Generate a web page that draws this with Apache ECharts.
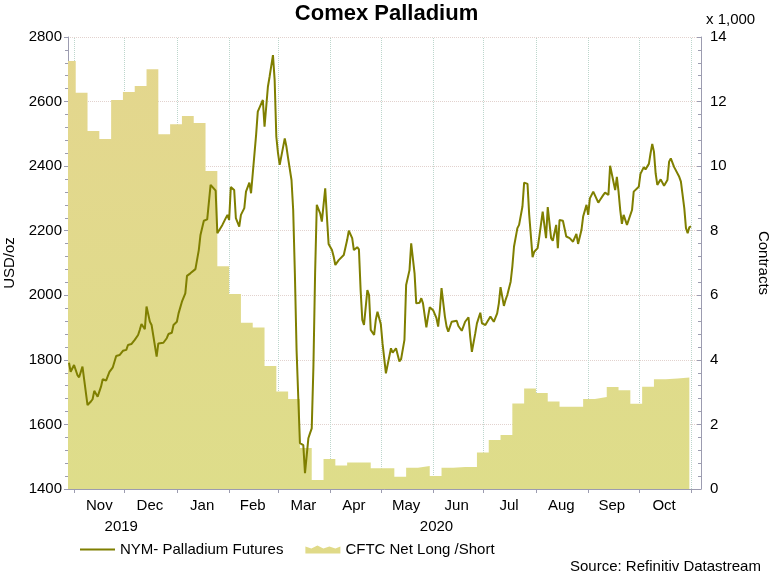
<!DOCTYPE html>
<html lang="en">

<head>
    <meta charset="UTF-8">
    <title>Comex Palladium</title>
    <script src="https://cdn.jsdelivr.net/npm/echarts@6/dist/echarts.min.js"></script>
    <style>
        body { margin: 0; background: #fff; }
    </style>
</head>

<body>
    <div id="chart" style="width: 773px;height: 576px;"></div>
    <script>
        // CFTC net long/short, weekly, thousands of contracts (right axis)
        var cftcDates = ['2019-10-28 10:00', '2019-11-02', '2019-11-09', '2019-11-16', '2019-11-23', '2019-11-30',
            '2019-12-07', '2019-12-14', '2019-12-21', '2019-12-28', '2020-01-04', '2020-01-11', '2020-01-18',
            '2020-01-25', '2020-02-01', '2020-02-08', '2020-02-15', '2020-02-22', '2020-02-29', '2020-03-07',
            '2020-03-14', '2020-03-21', '2020-03-28', '2020-04-04', '2020-04-11', '2020-04-18', '2020-04-25',
            '2020-05-02', '2020-05-09', '2020-05-16', '2020-05-23', '2020-05-30', '2020-06-06', '2020-06-13',
            '2020-06-20', '2020-06-27', '2020-07-04', '2020-07-11', '2020-07-18', '2020-07-25', '2020-08-01',
            '2020-08-08', '2020-08-15', '2020-08-22', '2020-08-29', '2020-09-05', '2020-09-12', '2020-09-19',
            '2020-09-26', '2020-10-03', '2020-10-10', '2020-10-17', '2020-10-24', '2020-10-31']
        var cftcNet = [13.26, 12.27, 11.09, 10.84, 12.05, 12.3,
            12.48, 13.0, 10.99, 11.3, 11.55, 11.34, 9.85,
            6.9, 6.04, 5.15, 5.0, 3.81, 3.02, 2.79,
            1.27, 0.28, 0.93, 0.73, 0.82, 0.82, 0.64,
            0.64, 0.38, 0.66, 0.71, 0.40, 0.66, 0.68,
            0.68, 1.13, 1.52, 1.67, 2.65, 3.11, 2.97,
            2.71, 2.55, 2.55, 2.79, 2.85, 3.16, 3.06,
            2.64, 3.17, 3.40, 3.42, 3.45, 3.45]

        // NYM palladium futures, USD/oz (left axis)
        var priceDates = ['2019-10-29', '2019-10-30', '2019-11-01', '2019-11-03', '2019-11-04', '2019-11-06',
            '2019-11-09', '2019-11-11', '2019-11-12', '2019-11-13', '2019-11-15', '2019-11-17', '2019-11-18',
            '2019-11-20', '2019-11-22', '2019-11-24', '2019-11-26', '2019-11-28', '2019-11-30', '2019-12-02',
            '2019-12-03', '2019-12-05', '2019-12-07', '2019-12-09', '2019-12-10', '2019-12-11', '2019-12-13',
            '2019-12-14', '2019-12-16', '2019-12-17', '2019-12-18', '2019-12-20', '2019-12-21', '2019-12-24',
            '2019-12-26', '2019-12-27', '2019-12-29', '2019-12-30', '2020-01-01', '2020-01-02', '2020-01-04',
            '2020-01-06', '2020-01-07', '2020-01-09', '2020-01-12', '2020-01-14', '2020-01-15', '2020-01-17',
            '2020-01-19', '2020-01-21', '2020-01-24', '2020-01-25', '2020-01-28', '2020-01-30', '2020-01-31',
            '2020-02-01', '2020-02-02', '2020-02-04', '2020-02-05', '2020-02-07', '2020-02-08', '2020-02-10',
            '2020-02-11', '2020-02-13', '2020-02-14', '2020-02-15', '2020-02-17', '2020-02-18', '2020-02-19',
            '2020-02-21', '2020-02-22', '2020-02-24', '2020-02-25', '2020-02-27', '2020-02-28', '2020-02-29',
            '2020-03-01', '2020-03-02', '2020-03-03', '2020-03-05', '2020-03-06', '2020-03-07', '2020-03-09',
            '2020-03-10', '2020-03-11', '2020-03-12', '2020-03-13', '2020-03-14', '2020-03-15', '2020-03-16',
            '2020-03-17', '2020-03-19', '2020-03-20', '2020-03-21', '2020-03-22', '2020-03-23', '2020-03-24',
            '2020-03-26', '2020-03-27', '2020-03-28', '2020-03-29', '2020-03-30', '2020-03-31', '2020-04-02',
            '2020-04-03', '2020-04-04', '2020-04-06', '2020-04-07', '2020-04-09', '2020-04-10', '2020-04-11',
            '2020-04-12', '2020-04-14', '2020-04-15', '2020-04-17', '2020-04-18', '2020-04-19', '2020-04-20',
            '2020-04-21', '2020-04-23', '2020-04-24', '2020-04-25', '2020-04-27', '2020-04-28', '2020-04-29',
            '2020-05-01', '2020-05-02', '2020-05-04', '2020-05-05', '2020-05-07', '2020-05-08', '2020-05-10',
            '2020-05-12', '2020-05-13', '2020-05-15', '2020-05-16', '2020-05-18', '2020-05-19', '2020-05-21',
            '2020-05-22', '2020-05-24', '2020-05-25', '2020-05-26', '2020-05-28', '2020-05-29', '2020-05-30',
            '2020-06-01', '2020-06-03', '2020-06-04', '2020-06-05', '2020-06-06', '2020-06-08', '2020-06-09',
            '2020-06-10', '2020-06-12', '2020-06-13', '2020-06-15', '2020-06-16', '2020-06-18', '2020-06-19',
            '2020-06-20', '2020-06-22', '2020-06-23', '2020-06-24', '2020-06-26', '2020-06-27', '2020-06-29',
            '2020-06-30', '2020-07-02', '2020-07-03', '2020-07-05', '2020-07-06', '2020-07-07', '2020-07-09',
            '2020-07-10', '2020-07-11', '2020-07-13', '2020-07-14', '2020-07-15', '2020-07-17', '2020-07-18',
            '2020-07-19', '2020-07-21', '2020-07-22', '2020-07-24', '2020-07-25', '2020-07-27', '2020-07-28',
            '2020-07-30', '2020-07-31', '2020-08-02', '2020-08-03', '2020-08-05', '2020-08-07', '2020-08-08',
            '2020-08-10', '2020-08-11', '2020-08-13', '2020-08-14', '2020-08-15', '2020-08-17', '2020-08-19',
            '2020-08-20', '2020-08-21', '2020-08-23', '2020-08-24', '2020-08-25', '2020-08-26', '2020-08-28',
            '2020-08-29', '2020-08-31', '2020-09-01', '2020-09-02', '2020-09-04', '2020-09-05', '2020-09-07',
            '2020-09-08', '2020-09-10', '2020-09-11', '2020-09-13', '2020-09-14', '2020-09-15', '2020-09-17',
            '2020-09-18', '2020-09-19', '2020-09-20', '2020-09-21', '2020-09-22', '2020-09-24', '2020-09-25',
            '2020-09-27', '2020-09-28', '2020-09-29', '2020-10-01', '2020-10-02', '2020-10-04', '2020-10-05',
            '2020-10-07', '2020-10-08', '2020-10-09', '2020-10-10', '2020-10-11', '2020-10-12', '2020-10-14',
            '2020-10-15', '2020-10-16', '2020-10-18', '2020-10-19', '2020-10-20', '2020-10-22', '2020-10-23',
            '2020-10-25', '2020-10-26', '2020-10-28', '2020-10-29', '2020-10-30', '2020-10-31', '2020-11-01']
        var priceValues = [1791, 1763, 1784, 1753, 1746, 1779,
            1660, 1671, 1678, 1704, 1686, 1717, 1740,
            1736, 1763, 1777, 1812, 1815, 1828, 1831,
            1846, 1849, 1862, 1877, 1893, 1911, 1895,
            1965, 1918, 1908, 1903, 1810, 1851, 1853,
            1867, 1880, 1884, 1908, 1918, 1944, 1980,
            2006, 2060, 2068, 2081, 2140, 2187, 2231,
            2235, 2342, 2324, 2192, 2218, 2239, 2249,
            2233, 2335, 2326, 2239, 2213, 2249, 2270,
            2321, 2349, 2316, 2321, 2497, 2569, 2574,
            2605, 2522, 2646, 2677, 2744, 2667, 2491,
            2440, 2404, 2404, 2486, 2460, 2424, 2357,
            2264, 2068, 1831, 1686, 1542, 1542, 1536,
            1449, 1557, 1573, 1588, 1779, 2068, 2280,
            2254, 2228, 2228, 2331, 2244, 2159, 2140,
            2120, 2094, 2109, 2114, 2125, 2128, 2171,
            2200, 2177, 2140, 2149, 2142, 2016, 1924,
            1908, 2016, 2001, 1893, 1877, 1924, 1949,
            1910, 1851, 1758, 1760, 1836, 1822, 1836,
            1795, 1802, 1862, 2032, 2078, 2161, 2068,
            1975, 1977, 1991, 1975, 1901, 1934, 1963,
            1954, 1929, 1903, 1954, 2022, 1934, 1903,
            1887, 1918, 1913, 1921, 1905, 1890, 1887,
            1918, 1932, 1872, 1825, 1882, 1913, 1946,
            1913, 1908, 1911, 1934, 1934, 1918, 1944,
            1975, 2025, 1967, 1986, 2001, 2042, 2089,
            2151, 2208, 2218, 2275, 2349, 2345, 2250,
            2118, 2135, 2146, 2182, 2259, 2177, 2273,
            2177, 2169, 2218, 2146, 2233, 2231, 2182,
            2184, 2177, 2166, 2171, 2190, 2159, 2202,
            2244, 2280, 2249, 2300, 2321, 2321, 2287,
            2295, 2311, 2318, 2311, 2401, 2404, 2326,
            2367, 2321, 2264, 2221, 2249, 2218, 2213,
            2264, 2321, 2324, 2336, 2376, 2397, 2390,
            2407, 2440, 2469, 2445, 2378, 2342, 2359,
            2362, 2339, 2357, 2414, 2424, 2397, 2393,
            2367, 2352, 2270, 2208, 2192, 2211, 2213]

        // axis marks
        var xStart = '2019-10-28 10:00'
        var xEnd = '2020-11-06 22:00'
        var monthStarts = ['2019-11-01', '2019-12-01', '2020-01-01', '2020-02-01', '2020-03-01', '2020-04-01',
            '2020-05-01', '2020-06-01', '2020-07-01', '2020-08-01', '2020-09-01', '2020-10-01', '2020-11-01']
        var monthMids = ['2019-11-16', '2019-12-16', '2020-01-16', '2020-02-15', '2020-03-16', '2020-04-15',
            '2020-05-16', '2020-06-15', '2020-07-16', '2020-08-16', '2020-09-15', '2020-10-16']
        var monthNames = ['Jan', 'Feb', 'Mar', 'Apr', 'May', 'Jun', 'Jul', 'Aug', 'Sep', 'Oct', 'Nov', 'Dec']
        var yearMarks = ['2019-11-29', '2020-06-03']

        // 日期字符串 -> 本地时间戳
        function ts(s) {
            var p = s.split(/[- :]/)
            return new Date(+p[0], +p[1] - 1, +p[2], +(p[3] || 0), +(p[4] || 0)).getTime()
        }

        var priceData = priceDates.map(function (d, i) { return [ts(d), priceValues[i]] })
        var cftcData = cftcDates.map(function (d, i) { return [ts(d), cftcNet[i]] })
        // 竖向网格线放在月初
        var monthLines = monthStarts.map(function (d) { return { xAxis: ts(d) } })

        var font = 'Liberation Sans, Arial, sans-serif'
        var axisGrey = '#9c9cb0'

        var myChart = echarts.init(document.getElementById('chart'))
        var option = {
            animation: false,
            textStyle: { fontFamily: font, color: '#000' },
            title: [{
                text: 'Comex Palladium',
                left: 'center',
                top: -2,
                textStyle: { fontSize: 22, fontWeight: 'bold', color: '#000', fontFamily: font }
            }],
            graphic: [
                { type: 'text', left: 706, top: 12, style: { text: 'x 1,000', fontSize: 15, fontFamily: font, fill: '#000' } },
                { type: 'text', left: 570, top: 559, style: { text: 'Source: Refinitiv Datastream', fontSize: 15, fontFamily: font, fill: '#000' } }
            ],
            legend: {
                left: 75,
                top: 537,
                itemWidth: 35,
                itemHeight: 10,
                itemGap: 22,
                textStyle: { fontSize: 15, color: '#000', fontFamily: font },
                data: [
                    { name: 'NYM- Palladium Futures', icon: 'path://M0,0 L35,0 L35,2 L0,2 Z', itemStyle: { color: '#7f7f00' } },
                    { name: 'CFTC Net Long /Short', icon: 'path://M0,10 L0,3 L6,5 L12,2 L18,5 L24,3 L30,5 L35,3 L35,10 Z', itemStyle: { color: '#e0da88' } }
                ]
            },
            grid: { left: 68, right: 72, top: 37, bottom: 87, containLabel: false, outerBoundsMode: 'none' },
            xAxis: [{
                type: 'value',
                min: ts(xStart),
                max: ts(xEnd),
                axisLine: { lineStyle: { color: axisGrey } },
                axisTick: { show: true, length: 4, customValues: monthStarts.map(ts), lineStyle: { color: axisGrey } },
                splitLine: { show: false },
                axisLabel: {
                    customValues: monthMids.map(ts),
                    margin: 9,
                    fontSize: 15,
                    color: '#000',
                    formatter: function (v) { return monthNames[new Date(v).getMonth()] }
                }
            }, {
                type: 'value',
                position: 'bottom',
                min: ts(xStart),
                max: ts(xEnd),
                axisLine: { show: false },
                axisTick: { show: false },
                splitLine: { show: false },
                axisLabel: {
                    customValues: yearMarks.map(ts),
                    margin: 30,
                    fontSize: 15,
                    color: '#000',
                    formatter: function (v) { return String(new Date(v).getFullYear()) }
                }
            }],
            yAxis: [{
                type: 'value',
                name: 'USD/oz',
                nameLocation: 'middle',
                nameGap: 50,
                nameTextStyle: { fontSize: 15, color: '#000' },
                min: 1400,
                max: 2800,
                interval: 200,
                axisLine: { show: true, lineStyle: { color: axisGrey } },
                axisTick: { show: true, length: 4, lineStyle: { color: axisGrey } },
                minorTick: { show: true, splitNumber: 5, length: 3, lineStyle: { color: axisGrey } },
                splitLine: { show: true, lineStyle: { type: 'dotted', color: '#e2d2ce' } },
                axisLabel: { fontSize: 15, color: '#000', margin: 6, formatter: function (v) { return String(v) } }
            }, {
                type: 'value',
                name: 'Contracts',
                nameLocation: 'middle',
                nameRotate: -90,
                nameGap: 55,
                nameTextStyle: { fontSize: 15, color: '#000' },
                position: 'right',
                min: 0,
                max: 14,
                interval: 2,
                axisLine: { show: true, lineStyle: { color: axisGrey } },
                axisTick: { show: true, inside: true, length: 4, lineStyle: { color: axisGrey } },
                minorTick: { show: true, splitNumber: 5, length: 3, lineStyle: { color: axisGrey } },
                splitLine: { show: false },
                axisLabel: { fontSize: 15, color: '#000', margin: 9 }
            }],
            series: [{
                // 只用来画月初的点状网格线, 放在面积图下面
                name: 'grid',
                type: 'line',
                xAxisIndex: 0,
                yAxisIndex: 0,
                data: [],
                silent: true,
                z: 0,
                markLine: {
                    silent: true,
                    z: 0,
                    symbol: 'none',
                    label: { show: false },
                    lineStyle: { type: 'dotted', color: '#bcd6cc', width: 1 },
                    data: monthLines
                }
            }, {
                name: 'CFTC Net Long /Short',
                type: 'line',
                xAxisIndex: 0,
                yAxisIndex: 1,
                step: 'end',
                symbol: 'none',
                data: cftcData,
                itemStyle: { color: '#e0da88' },
                lineStyle: { width: 0 },
                areaStyle: {
                    opacity: 1,
                    color: {
                        type: 'linear', x: 0, y: 37, x2: 0, y2: 489, global: true,
                        colorStops: [
                            { offset: 0, color: '#e4d68e' },
                            { offset: 1, color: '#dedd8a' }
                        ]
                    }
                },
                z: 3
            }, {
                name: 'NYM- Palladium Futures',
                type: 'line',
                xAxisIndex: 0,
                yAxisIndex: 0,
                symbol: 'none',
                data: priceData,
                itemStyle: { color: '#7f7f00' },
                lineStyle: { color: '#7f7f00', width: 2 },
                z: 6
            }]
        }
        myChart.setOption(option)
    </script>
</body>

</html>
